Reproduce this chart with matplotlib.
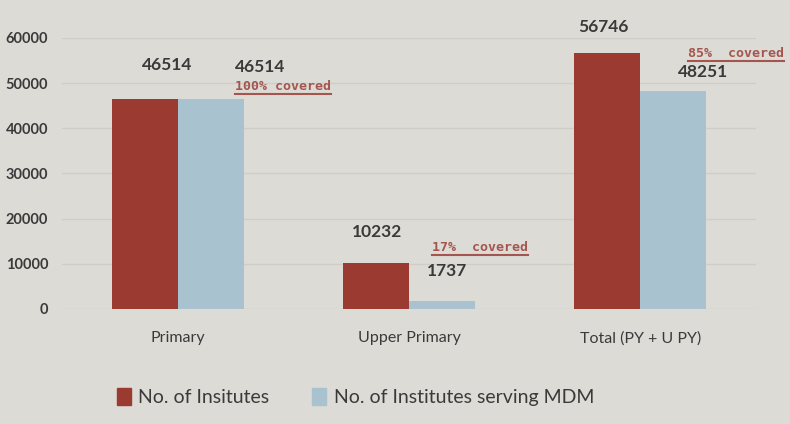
import matplotlib
matplotlib.use('Agg')
import matplotlib.pyplot as plt
import numpy as np
from matplotlib.lines import Line2D
from matplotlib.patches import Patch

# data
categories = ['Primary', 'Upper Primary', 'Total (PY + U PY)']
institutes = [46514, 10232, 56746]
serving_mdm = [46514, 1737, 48251]
coverage = ['100% covered', '17%  covered', '85%  covered']
series_names = ['No. of Insitutes', 'No. of Institutes serving MDM']
yticks = [0, 10000, 20000, 30000, 40000, 50000, 60000]

BG = '#dddbd5'
RED = '#9b3a30'
BLUE = '#a9c2cf'
TXT = '#3a3a3a'
COV = '#a4554f'

plt.rcParams['font.family'] = ['Lato', 'DejaVu Sans']

fig = plt.figure(figsize=(7.9, 4.24), dpi=100, facecolor=BG)
ax = fig.add_axes([62 / 790, 1 - 309 / 424, 694 / 790, 271 / 424])
ax.set_facecolor(BG)

x = np.arange(len(categories))
w = 0.286
ax.bar(x - w / 2, institutes, w, color=RED, zorder=3)
ax.bar(x + w / 2, serving_mdm, w, color=BLUE, zorder=3)

ax.set_xlim(-0.5, 2.5)
ax.set_ylim(0, 60000)
ax.set_yticks(yticks)
ax.set_yticklabels([str(t) for t in yticks], fontsize=10.5, color=TXT, fontweight='bold')
ax.set_xticks(x)
ax.set_xticklabels(categories, fontsize=11.5, color=TXT)
ax.tick_params(length=0)
ax.tick_params(axis='x', pad=16)
ax.tick_params(axis='y', pad=10)
for s in ax.spines.values():
    s.set_visible(False)
ax.grid(axis='y', color='#cfcdc6', linewidth=1, zorder=0)

# value labels: (dx, dy) offsets in pixels from the bar top
red_off = [(23, 34), (1, 31), (-4, 26)]
blue_off = [(49, 32), (5, 30), (30, 19)]
# coverage notes: left edge offset from group centre, height above blue bar
cov_off = [(57, 12), (23, 54), (48, 38)]

for i in range(len(categories)):
    ax.annotate(str(institutes[i]), (x[i] - w / 2, institutes[i]),
                xytext=(red_off[i][0] * 0.72, red_off[i][1] * 0.72),
                textcoords='offset points', ha='center', va='center',
                fontsize=12.5, color=TXT, fontweight='bold')
    ax.annotate(str(serving_mdm[i]), (x[i] + w / 2, serving_mdm[i]),
                xytext=(blue_off[i][0] * 0.72, blue_off[i][1] * 0.72),
                textcoords='offset points', ha='center', va='center',
                fontsize=12.5, color=TXT, fontweight='bold')

fig.canvas.draw()
renderer = fig.canvas.get_renderer()
for i in range(len(categories)):
    t = ax.annotate(coverage[i], (x[i], serving_mdm[i]),
                    xytext=(cov_off[i][0] * 0.72, cov_off[i][1] * 0.72),
                    textcoords='offset points', ha='left', va='center',
                    fontsize=9.5, color=COV, fontweight='bold',
                    family='DejaVu Sans Mono')
    bb = t.get_window_extent(renderer)
    fig.add_artist(Line2D([bb.x0 / fig.bbox.width, bb.x1 / fig.bbox.width],
                          [(bb.y0 - 1) / fig.bbox.height] * 2,
                          color=COV, linewidth=1.5))

handles = [Patch(color=RED), Patch(color=BLUE)]
fig.legend(handles, series_names, loc='center', bbox_to_anchor=(0.45, 1 - 397 / 424),
           ncol=2, frameon=False, fontsize=14, handlelength=0.7, handleheight=1.0,
           handletextpad=0.4, columnspacing=2.2, labelcolor=TXT)

fig.savefig('out.png', dpi=100, facecolor=BG)
